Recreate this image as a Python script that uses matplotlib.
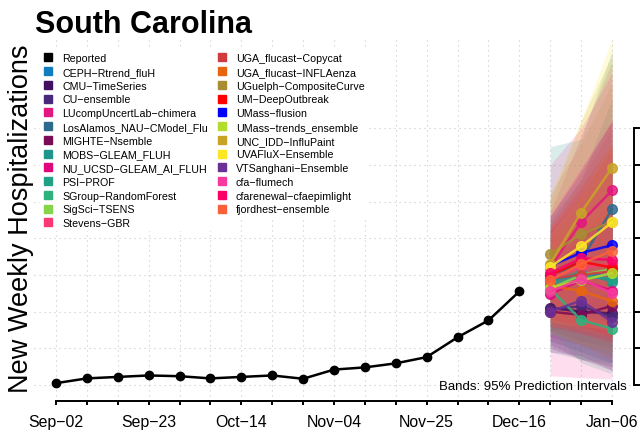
import datetime as dt

import matplotlib
matplotlib.use("Agg")
import matplotlib.pyplot as plt
import matplotlib.dates as mdates
from matplotlib.lines import Line2D

plt.rcParams["font.family"] = ["Liberation Sans", "DejaVu Sans"]

# reported weekly hospitalizations, Sep-02 .. Dec-16
reported = [5, 18, 22, 26, 24, 18, 22, 26, 17, 42, 48, 59, 76, 130, 176, 255]

models = [
    "CEPH−Rtrend_fluH", "CMU−TimeSeries", "CU−ensemble", "LUcompUncertLab−chimera",
    "LosAlamos_NAU−CModel_Flu", "MIGHTE−Nsemble", "MOBS−GLEAM_FLUH",
    "NU_UCSD−GLEAM_AI_FLUH", "PSI−PROF", "SGroup−RandomForest", "SigSci−TSENS",
    "Stevens−GBR", "UGA_flucast−Copycat", "UGA_flucast−INFLAenza",
    "UGuelph−CompositeCurve", "UM−DeepOutbreak", "UMass−flusion",
    "UMass−trends_ensemble", "UNC_IDD−InfluPaint", "UVAFluX−Ensemble",
    "VTSanghani−Ensemble", "cfa−flumech", "cfarenewal−cfaepimlight",
    "fjordhest−ensemble",
]
colors = [
    "#117DBF", "#42105E", "#48287A", "#E3177F", "#2E6A8E", "#7B0C55", "#1F968B",
    "#E0077D", "#1FA187", "#2DB27D", "#85D54A", "#FB3A73", "#D13B40", "#E8650F",
    "#A88D32", "#FF0000", "#0000FF", "#B2DD2C", "#C8A326", "#FDE725", "#6A3096",
    "#F7399E", "#FA0069", "#FB6138",
]

# point forecasts for Dec-23, Dec-30, Jan-06
median_dec23 = [285, 210, 205, 320, 290, 200, 280, 248, 275, 262, 262, 295,
                290, 270, 357, 300, 325, 265, 330, 322, 200, 255, 305, 285]
median_dec30 = [300, 200, 215, 444, 340, 191, 308, 285, 295, 177, 300, 320,
                300, 257, 411, 336, 360, 285, 470, 378, 230, 289, 345, 330]
median_jan06 = [300, 195, 185, 530, 479, 216, 281, 257, 290, 153, 316, 331,
                310, 228, 445, 320, 381, 305, 592, 443, 172, 250, 341, 366]

# 95% prediction interval bounds
lower_dec23 = [150, 110, 120, 200, 150, 100, 90, 130, 140, 150, 160, 180,
               170, 150, 220, 180, 200, 140, 180, 170, 90, 25, 160, 160]
lower_dec30 = [120, 70, 90, 230, 150, 70, 70, 110, 110, 60, 140, 160,
               140, 110, 200, 160, 190, 110, 220, 160, 80, 20, 140, 150]
lower_jan06 = [100, 40, 60, 250, 180, 50, 60, 90, 80, 30, 120, 140,
               110, 70, 180, 130, 170, 90, 260, 150, 40, 16, 120, 130]
upper_dec23 = [450, 330, 320, 470, 440, 330, 649, 400, 420, 380, 380, 420,
               420, 400, 520, 430, 460, 410, 500, 520, 330, 600, 460, 430]
upper_dec30 = [560, 380, 400, 680, 560, 400, 670, 500, 520, 380, 500, 520,
               520, 440, 660, 540, 580, 520, 720, 720, 420, 700, 590, 560]
upper_jan06 = [700, 450, 500, 880, 780, 520, 910, 600, 650, 420, 620, 640,
               650, 480, 820, 660, 720, 660, 900, 943, 450, 850, 720, 720]

yticks = [0, 100, 200, 300, 400, 500, 600, 700]

W, H = 640, 435
fig = plt.figure(figsize=(W / 100, H / 100), dpi=100)
ax = fig.add_axes([34 / W, (H - 402) / H, 600 / W, 365 / H])

weeks = [dt.date(2023, 9, 2) + dt.timedelta(days=7 * i) for i in range(19)]
wnum = mdates.date2num(weeks)
obs_dates = wnum[:len(reported)]
fc_dates = wnum[len(reported):]

ax.plot(obs_dates, reported, color="black", lw=1.8, marker="o", ms=6, zorder=3)

for i, c in enumerate(colors):
    lo = [lower_dec23[i], lower_dec30[i], lower_jan06[i]]
    hi = [upper_dec23[i], upper_dec30[i], upper_jan06[i]]
    ax.fill_between(fc_dates, lo, hi, color=c, alpha=0.17, lw=0, zorder=1)

for i, c in enumerate(colors):
    med = [median_dec23[i], median_dec30[i], median_jan06[i]]
    ax.plot(fc_dates, med, color=c, lw=1.8, marker="o", ms=7, alpha=0.85, zorder=2)

ax.set_xlim(wnum[0] - 4.98, wnum[-1] + 4.98)
ax.set_ylim(-43.6, 951)

ax.set_xticks(wnum)
ax.set_xticklabels([d.strftime("%b−%d") if i % 3 == 0 else "" for i, d in enumerate(weeks)])
ax.set_yticks(yticks)
ax.yaxis.tick_right()
ax.tick_params(axis="x", direction="out", length=2.6, width=1.4, pad=6.5, labelsize=11.4)
ax.tick_params(axis="y", direction="out", length=4.3, width=1.4, labelright=False)

for s in ("left", "top"):
    ax.spines[s].set_visible(False)
ax.spines["bottom"].set_bounds(wnum[0], wnum[-1])
ax.spines["right"].set_bounds(yticks[0], yticks[-1])
ax.spines["bottom"].set_linewidth(1.4)
ax.spines["right"].set_linewidth(1.4)

ax.set_axisbelow(True)
ax.grid(True, color="#C8C8C8", lw=0.8, linestyle=(0, (1, 3.5)))

# legends, two columns each on its own white box
def handle(c):
    return Line2D([], [], marker="s", linestyle="none", color=c, markersize=6.3)

left_names = ["Reported"] + models[:12]
left_cols = ["black"] + colors[:12]
right_names = models[12:]
right_cols = colors[12:]
leg_kw = dict(loc="upper left", fontsize=7.7, frameon=True, facecolor="white",
              edgecolor="none", framealpha=1, fancybox=False, borderpad=0.3,
              handlelength=1.0, handletextpad=0.8, labelspacing=0.35,
              borderaxespad=0)
fig.legend([handle(c) for c in left_cols], left_names,
           bbox_to_anchor=(39.7 / W, 1 - 51 / H), **leg_kw)
fig.legend([handle(c) for c in right_cols], right_names,
           bbox_to_anchor=(213.5 / W, 1 - 51 / H), **leg_kw)

fig.text(35 / W, 1 - 33 / H, "South Carolina", fontsize=22, fontweight="bold",
         ha="left", va="baseline")
fig.text(21 / W, 1 - 219 / H, "New Weekly Hospitalizations", fontsize=19.5,
         rotation=90, ha="center", va="center")
fig.text(627 / W, 1 - 387 / H, "Bands: 95% Prediction Intervals", fontsize=9.5,
         ha="right", va="center")

fig.savefig("out.png", dpi=100)
